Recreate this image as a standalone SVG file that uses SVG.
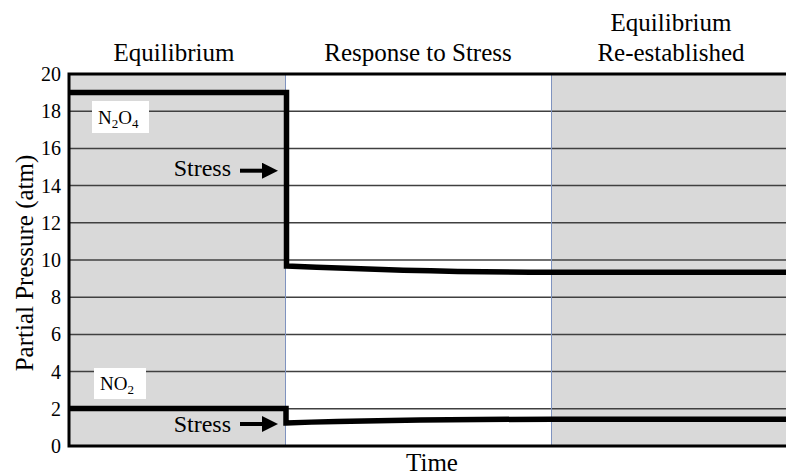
<svg xmlns="http://www.w3.org/2000/svg" width="786" height="476" viewBox="0 0 786 476" font-family="'Liberation Serif', 'DejaVu Serif', 'Times New Roman', serif">
<style>
text{font-family:'Liberation Serif','DejaVu Serif','Times New Roman',serif;fill:#000}
.hdr{font-size:25px;text-anchor:middle}
.tick{font-size:20px;text-anchor:end}
.grid{stroke:#404040;stroke-width:1.5}
.zone{fill:#d9d9d9}
.div{stroke:#7f93bf;stroke-width:1}
.frame{stroke:#000;stroke-width:3;fill:none}
.curve{stroke:#000;stroke-width:5.5;fill:none;stroke-linejoin:miter}
.lbl{fill:#fff}
.sp{font-size:19px}
.stress{font-size:24px;text-anchor:end}
</style>
<defs>
<marker id="ah" markerWidth="4" markerHeight="4" refX="0" refY="2" orient="auto" markerUnits="strokeWidth">
<path d="M0,0 L0,4 L4,2 Z" fill="#000"/>
</marker>
</defs>
<g id="background">
<rect class="zone" x="69" y="74" width="216.5" height="372"/>
<rect class="zone" x="551.5" y="74" width="234.5" height="372"/>
</g>
<g id="grid">
<line class="grid" x1="69" y1="408.8" x2="786" y2="408.8"/>
<line class="grid" x1="69" y1="371.6" x2="786" y2="371.6"/>
<line class="grid" x1="69" y1="334.4" x2="786" y2="334.4"/>
<line class="grid" x1="69" y1="297.2" x2="786" y2="297.2"/>
<line class="grid" x1="69" y1="260" x2="786" y2="260"/>
<line class="grid" x1="69" y1="222.8" x2="786" y2="222.8"/>
<line class="grid" x1="69" y1="185.6" x2="786" y2="185.6"/>
<line class="grid" x1="69" y1="148.4" x2="786" y2="148.4"/>
<line class="grid" x1="69" y1="111.2" x2="786" y2="111.2"/>
<line class="div" x1="285.5" y1="74" x2="285.5" y2="446"/>
<line class="div" x1="551.5" y1="74" x2="551.5" y2="446"/>
</g>
<g id="axes">
<path class="frame" d="M786,74 H69 V446 H786"/>
<text class="tick" x="61" y="453">0</text>
<text class="tick" x="61" y="415.8">2</text>
<text class="tick" x="61" y="378.6">4</text>
<text class="tick" x="61" y="341.4">6</text>
<text class="tick" x="61" y="304.2">8</text>
<text class="tick" x="61" y="267">10</text>
<text class="tick" x="61" y="229.8">12</text>
<text class="tick" x="61" y="192.6">14</text>
<text class="tick" x="61" y="155.4">16</text>
<text class="tick" x="61" y="118.2">18</text>
<text class="tick" x="61" y="81">20</text>
<text class="hdr" transform="translate(33,263) rotate(-90)">Partial Pressure (atm)</text>
<text class="hdr" x="432" y="471">Time</text>
</g>
<g id="headers">
<text class="hdr" x="174" y="61">Equilibrium</text>
<text class="hdr" x="418" y="61">Response to Stress</text>
<text class="hdr" x="671" y="31">Equilibrium</text>
<text class="hdr" x="671" y="61">Re-established</text>
</g>
<g id="connectors">
<path class="curve" d="M69,92.6 H286.5 V266 C380,270 460,272.3 552,272.3 H786"/>
<path class="curve" d="M69,408.5 H286 V423 C380,420 460,419.3 552,419.3 H786"/>
<line x1="240" y1="170.7" x2="262" y2="170.7" stroke="#000" stroke-width="4" marker-end="url(#ah)"/>
<line x1="240" y1="424" x2="262" y2="424" stroke="#000" stroke-width="4" marker-end="url(#ah)"/>
</g>
<g id="label-n2o4">
<rect class="lbl" x="92" y="101" width="57" height="32"/>
<text class="sp" x="98" y="124">N<tspan font-size="13" dy="4">2</tspan><tspan dy="-4">O</tspan><tspan font-size="13" dy="4">4</tspan></text>
</g>
<g id="label-no2">
<rect class="lbl" x="94" y="368" width="52" height="31"/>
<text class="sp" x="100" y="390">NO<tspan font-size="13" dy="4">2</tspan></text>
</g>
<g id="stress-top">
<text class="stress" x="231" y="176">Stress</text>
</g>
<g id="stress-bottom">
<text class="stress" x="231" y="432">Stress</text>
</g>
</svg>
